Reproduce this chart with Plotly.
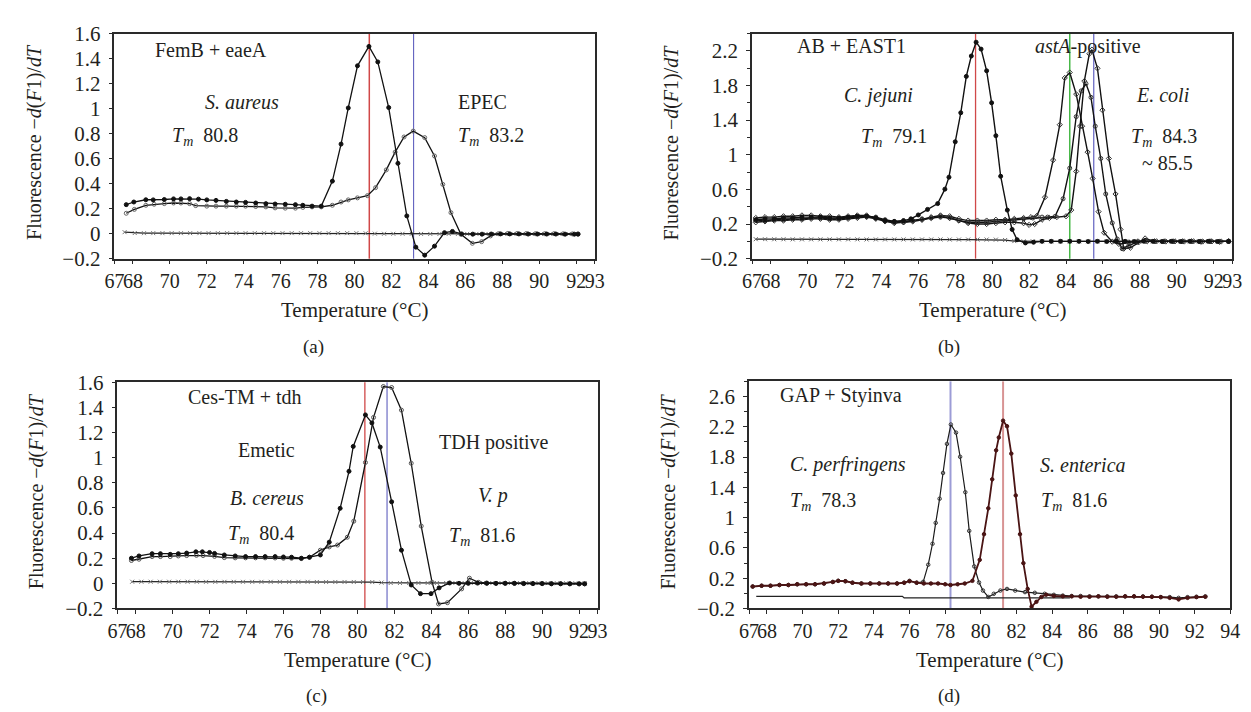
import plotly.graph_objects as go

W, H = 1251, 712
FONT = "Liberation Serif"
INK = "#231f20"

# ---------------- data: panel (a) FemB + eaeA ----------------
A_T_SAUREUS = [67.64, 68.05, 68.7, 69.1, 69.7, 70.2, 70.6, 71.07, 71.55, 72.0,
               72.5, 73.06, 73.6, 74.1, 74.65, 75.2, 75.7, 76.25, 76.8, 77.2,
               77.7, 78.2, 78.8, 79.27, 79.66, 80.16, 80.78, 81.26, 81.85, 82.35,
               82.83, 83.32, 83.8, 84.33, 84.87, 85.3, 85.8, 86.4, 86.9, 87.4,
               87.9, 88.4, 88.9, 89.4, 89.9, 90.4, 90.9, 91.4, 91.9, 92.1]
A_V_SAUREUS = [0.232, 0.253, 0.271, 0.27, 0.273, 0.278, 0.278, 0.28, 0.276, 0.27,
               0.266, 0.258, 0.253, 0.25, 0.245, 0.24, 0.237, 0.235, 0.232, 0.227,
               0.22, 0.22, 0.42, 0.716, 1.005, 1.342, 1.497, 1.373, 1.008, 0.562,
               0.142, -0.108, -0.172, -0.1, 0.008, 0.018, -0.002, -0.004, -0.004, -0.003,
               -0.002, -0.002, -0.002, -0.003, -0.003, -0.003, -0.003, -0.004, -0.004, -0.004]
A_T_EPEC = [67.64, 68.08, 68.7, 69.15, 69.7, 70.2, 70.6, 71.07, 71.4, 72.0,
            72.5, 73.06, 73.6, 74.1, 74.65, 75.2, 75.7, 76.25, 76.8, 77.2,
            77.7, 78.2, 78.8, 79.27, 79.66, 80.16, 80.7, 81.14, 81.72, 82.2,
            82.68, 83.18, 83.8, 84.33, 84.78, 85.22, 85.76, 86.38, 86.88, 87.36,
            87.8, 88.3, 88.8, 89.3, 89.8, 90.3, 90.8, 91.3, 91.8, 92.1]
A_V_EPEC = [0.163, 0.194, 0.227, 0.235, 0.24, 0.245, 0.245, 0.24, 0.224, 0.22,
            0.22, 0.22, 0.22, 0.22, 0.217, 0.214, 0.206, 0.204, 0.204, 0.21,
            0.214, 0.214, 0.227, 0.253, 0.27, 0.286, 0.304, 0.368, 0.51, 0.652,
            0.773, 0.82, 0.768, 0.621, 0.394, 0.168, -0.005, -0.077, -0.064, -0.018,
            0.0, 0.002, 0.001, 0.001, 0.0, 0.0, 0.0, -0.001, -0.002, -0.002]
A_T_NTC = [67.55, 68.1, 68.6, 69.1, 69.6, 70.1, 70.6, 71.1, 71.6, 72.1,
           72.6, 73.1, 73.6, 74.1, 74.6, 75.1, 75.6, 76.1, 76.6, 77.1,
           77.6, 78.1, 78.6, 79.1, 79.6, 80.1, 80.6, 81.1, 81.6, 82.1,
           82.6, 83.1, 83.6, 84.1, 84.6, 85.1, 85.6, 86.1, 86.6, 87.1,
           87.6, 88.1, 88.6, 89.1, 89.6, 90.1, 90.6, 91.1, 91.6, 92.1]
A_V_NTC = [0.012, 0.005, 0.004, 0.004, 0.004, 0.004, 0.004, 0.004, 0.004, 0.004,
           0.004, 0.004, 0.004, 0.004, 0.004, 0.004, 0.004, 0.004, 0.004, 0.004,
           0.004, 0.004, 0.004, 0.004, 0.004, 0.004, 0.003, 0.0, -0.001, -0.001,
           -0.001, -0.001, -0.002, -0.002, -0.002, -0.002, -0.002, -0.002, -0.002, -0.002,
           -0.002, -0.002, -0.002, -0.003, -0.003, -0.003, -0.003, -0.003, -0.003, -0.003]

# ---------------- data: panel (b) AB + EAST1 ----------------
B_T_CJ = [67.2, 67.7, 68.2, 68.7, 69.2, 69.7, 70.2, 70.7, 71.2, 71.7,
          72.2, 72.7, 73.2, 73.7, 74.2, 74.7, 75.2, 75.6, 76.0, 76.5,
          77.05, 77.44, 77.66, 78.0, 78.3, 78.6, 78.87, 79.13, 79.4, 79.7,
          79.97, 80.2, 80.46, 80.82, 81.08, 81.35, 81.8, 82.24, 82.7, 83.2,
          83.7, 84.2, 84.7, 85.2, 85.7, 86.2, 86.7, 87.2, 87.7, 88.2,
          88.7, 89.2, 89.7, 90.2, 90.7, 91.2, 91.7, 92.2, 92.8]
B_V_CJ = [0.25, 0.26, 0.26, 0.27, 0.27, 0.28, 0.28, 0.28, 0.27, 0.27,
          0.28, 0.29, 0.29, 0.27, 0.24, 0.23, 0.24, 0.26, 0.305, 0.369,
          0.436, 0.603, 0.741, 1.15, 1.485, 1.905, 2.14, 2.3, 2.22, 1.97,
          1.6, 1.22, 0.752, 0.361, 0.138, 0.019, -0.018, -0.01, 0.0, 0.0,
          0.0, 0.0, 0.0, -0.002, 0.0, -0.002, 0.0, 0.0, -0.002, 0.002,
          0.0, -0.002, 0.0, -0.002, 0.0, -0.002, 0.0, -0.002, 0.0]
B_T_EC1 = [67.2, 67.7, 68.2, 68.7, 69.2, 69.7, 70.2, 70.7, 71.2, 71.7,
           72.2, 72.7, 73.2, 73.7, 74.2, 74.7, 75.2, 75.7, 76.2, 76.7,
           77.2, 77.7, 78.2, 78.7, 79.2, 79.7, 80.2, 80.7, 81.2, 81.7,
           82.1, 82.42, 82.86, 83.3, 83.66, 83.93, 84.2, 84.55, 84.87, 85.17,
           85.44, 85.76, 86.06, 86.5, 86.86, 87.4, 87.9, 88.4, 88.9, 89.4,
           89.9, 90.4, 90.9, 91.4, 91.9, 92.4, 92.8]
B_V_EC1 = [0.27, 0.28, 0.28, 0.29, 0.29, 0.3, 0.3, 0.29, 0.29, 0.28,
           0.29, 0.3, 0.3, 0.27, 0.24, 0.22, 0.22, 0.23, 0.25, 0.28,
           0.3, 0.29, 0.26, 0.24, 0.24, 0.24, 0.25, 0.25, 0.26, 0.27,
           0.28, 0.294, 0.51, 0.938, 1.347, 1.887, 1.95, 1.7, 1.33, 1.03,
           0.726, 0.343, 0.1, -0.004, -0.03, -0.011, 0.0, 0.002, 0.0, -0.002,
           0.0, -0.002, 0.0, -0.002, 0.0, -0.002, 0.0]
B_T_EC2 = [67.2, 67.7, 68.2, 68.7, 69.2, 69.7, 70.2, 70.7, 71.2, 71.7,
           72.2, 72.7, 73.2, 73.7, 74.2, 74.7, 75.2, 75.7, 76.2, 76.7,
           77.2, 77.7, 78.2, 78.7, 79.2, 79.7, 80.2, 80.7, 81.2, 81.7,
           82.2, 82.7, 83.0, 83.4, 83.84, 84.2, 84.55, 84.82, 85.08, 85.35,
           85.58, 85.88, 86.15, 86.5, 86.77, 87.04, 87.4, 87.84, 88.3, 88.8,
           89.3, 89.8, 90.3, 90.8, 91.3, 91.8, 92.3, 92.8]
B_V_EC2 = [0.24, 0.24, 0.25, 0.25, 0.26, 0.26, 0.27, 0.27, 0.26, 0.26,
           0.27, 0.28, 0.29, 0.28, 0.25, 0.23, 0.23, 0.24, 0.26, 0.27,
           0.28, 0.27, 0.24, 0.22, 0.22, 0.22, 0.23, 0.24, 0.25, 0.26,
           0.27, 0.28, 0.28, 0.287, 0.492, 0.845, 1.44, 1.738, 1.82, 1.663,
           1.33, 0.957, 0.547, 0.213, 0.027, -0.085, -0.048, -0.01, 0.0, 0.0,
           -0.002, 0.0, -0.002, 0.0, -0.002, 0.0, -0.002, 0.0]
B_T_EC3 = [67.2, 67.7, 68.2, 68.7, 69.2, 69.7, 70.2, 70.7, 71.2, 71.7,
           72.2, 72.7, 73.2, 73.7, 74.2, 74.7, 75.2, 75.7, 76.2, 76.7,
           77.2, 77.7, 78.2, 78.7, 79.2, 79.7, 80.2, 80.7, 81.2, 81.7,
           82.0, 82.3, 82.7, 83.1, 83.5, 84.0, 84.28, 84.55, 84.76, 84.99,
           85.26, 85.4, 85.7, 85.97, 86.32, 86.68, 86.95, 87.12, 87.48, 87.93,
           88.28, 88.8, 89.3, 89.8, 90.3, 90.8, 91.3, 91.8, 92.3, 92.8]
B_V_EC3 = [0.22, 0.23, 0.24, 0.24, 0.25, 0.25, 0.26, 0.26, 0.25, 0.25,
           0.26, 0.27, 0.28, 0.26, 0.23, 0.21, 0.22, 0.24, 0.25, 0.27,
           0.29, 0.27, 0.24, 0.21, 0.2, 0.2, 0.21, 0.22, 0.22, 0.21,
           0.19, 0.2, 0.25, 0.27, 0.28, 0.29, 0.361, 0.808, 1.33, 1.85,
           2.166, 2.214, 1.998, 1.515, 0.957, 0.547, 0.138, -0.085, -0.074, -0.011,
           0.034, 0.0, 0.0, 0.0, 0.0, 0.0, -0.005, 0.0, -0.005, 0.0]
B_T_NTC = [67.2, 67.7, 68.2, 68.7, 69.2, 69.7, 70.2, 70.7, 71.2, 71.7,
           72.2, 72.7, 73.2, 73.7, 74.2, 74.7, 75.2, 75.7, 76.2, 76.7,
           77.2, 77.7, 78.2, 78.7, 79.2, 79.7, 80.2, 80.7, 81.2, 81.7,
           82.2, 82.7, 83.2, 83.7, 84.2, 84.7, 85.2, 85.7, 86.2, 86.7,
           87.2, 87.7, 88.2, 88.7, 89.2, 89.7, 90.2, 90.7, 91.2, 91.7,
           92.2, 92.8]
B_V_NTC = [0.025, 0.024, 0.024, 0.024, 0.023, 0.023, 0.023, 0.023, 0.023, 0.023,
           0.023, 0.023, 0.022, 0.022, 0.022, 0.022, 0.022, 0.022, 0.022, 0.022,
           0.022, 0.021, 0.021, 0.021, 0.021, 0.021, 0.02, 0.015, 0.003, 0.0,
           0.0, 0.0, 0.0, 0.0, 0.0, 0.0, 0.0, 0.0, 0.0, 0.0,
           0.0, 0.0, 0.0, 0.0, 0.0, 0.0, 0.0, 0.0, 0.0, 0.0,
           0.0, 0.0]

# ---------------- data: panel (c) Ces-TM + tdh ----------------
C_T_EMETIC = [67.76, 68.17, 68.88, 69.33, 69.86, 70.3, 70.75, 71.25, 71.6, 71.99,
              72.26, 72.79, 73.38, 73.94, 74.48, 75.0, 75.54, 75.99, 76.43, 76.96,
              77.4, 77.99, 78.47, 79.06, 79.54, 79.77, 80.43, 80.78, 81.23, 81.85,
              82.38, 82.91, 83.41, 83.98, 84.42, 84.99, 85.5, 86.0, 86.5, 87.0,
              87.5, 88.0, 88.5, 89.0, 89.5, 90.0, 90.5, 91.0, 91.5, 92.0, 92.3]
C_V_EMETIC = [0.2, 0.218, 0.236, 0.236, 0.231, 0.236, 0.241, 0.251, 0.251, 0.246,
              0.238, 0.226, 0.218, 0.213, 0.213, 0.213, 0.213, 0.21, 0.208, 0.2,
              0.208, 0.226, 0.328, 0.597, 0.892, 1.09, 1.341, 1.277, 1.085, 0.649,
              0.264, -0.013, -0.082, -0.082, -0.036, 0.003, 0.0, 0.0, 0.002, 0.0,
              0.0, 0.0, 0.0, -0.002, -0.002, -0.002, -0.003, -0.003, -0.004, -0.004, -0.004]
C_T_VP = [67.76, 68.17, 68.88, 69.33, 69.86, 70.3, 70.75, 71.28, 71.64, 72.26,
          72.79, 73.38, 73.94, 74.48, 75.0, 75.54, 75.99, 76.43, 76.96, 77.4,
          77.99, 78.47, 78.92, 79.45, 79.8, 80.43, 80.87, 81.4, 81.85, 82.38,
          82.91, 83.45, 84.04, 84.39, 84.87, 85.64, 86.06, 86.56, 87.0, 87.5,
          88.0, 88.5, 89.0, 89.5, 90.0, 90.5, 91.0, 91.5, 92.0, 92.3]
C_V_VP = [0.182, 0.192, 0.213, 0.213, 0.213, 0.218, 0.221, 0.223, 0.221, 0.215,
          0.205, 0.203, 0.203, 0.203, 0.203, 0.202, 0.2, 0.2, 0.197, 0.208,
          0.264, 0.29, 0.305, 0.367, 0.495, 0.962, 1.321, 1.567, 1.559, 1.379,
          0.956, 0.456, 0.008, -0.164, -0.154, -0.044, 0.041, 0.008, 0.003, 0.0,
          0.001, 0.0, 0.0, -0.002, -0.002, -0.003, -0.003, -0.003, -0.004, -0.004]
C_T_NTC = [67.8, 68.3, 68.8, 69.3, 69.8, 70.3, 70.8, 71.3, 71.8, 72.3,
           72.8, 73.3, 73.8, 74.3, 74.8, 75.3, 75.8, 76.3, 76.8, 77.3,
           77.8, 78.3, 78.8, 79.3, 79.8, 80.3, 80.8, 81.3, 81.8, 82.3,
           82.8, 83.3, 83.8, 84.3, 84.8, 85.3, 85.8, 86.3, 86.8, 87.3,
           87.8, 88.3, 88.8, 89.3, 89.8, 90.3, 90.8, 91.3, 91.8, 92.3]
C_V_NTC = [0.013, 0.013, 0.013, 0.013, 0.013, 0.013, 0.013, 0.013, 0.012, 0.012,
           0.012, 0.012, 0.012, 0.012, 0.012, 0.012, 0.012, 0.012, 0.012, 0.012,
           0.011, 0.011, 0.011, 0.011, 0.011, 0.011, 0.01, 0.006, 0.003, 0.003,
           0.003, 0.003, 0.003, 0.003, 0.003, 0.003, 0.003, 0.003, 0.003, 0.002,
           0.002, 0.002, 0.002, 0.002, 0.002, 0.002, 0.001, 0.001, 0.001, 0.001]

# ---------------- data: panel (d) GAP + Styinva ----------------
D_T_CP = [67.2, 67.7, 68.2, 68.7, 69.2, 69.7, 70.2, 70.7, 71.2, 71.7,
          72.0, 72.4, 72.8, 73.3, 73.8, 74.3, 74.8, 75.3, 75.7, 76.0,
          76.4, 76.77, 77.05, 77.29, 77.47, 77.69, 77.88, 78.1, 78.32, 78.61,
          78.84, 79.13, 79.35, 79.63, 79.9, 80.12, 80.42, 80.73, 81.1, 81.47,
          81.93, 82.48, 83.03, 83.58, 84.1, 84.6, 85.1, 85.6, 86.1, 86.6,
          87.1, 87.6, 88.1, 88.6, 89.1, 89.6, 90.1, 90.6, 91.1, 91.6,
          92.1, 92.6]
D_V_CP = [0.09, 0.1, 0.1, 0.11, 0.11, 0.12, 0.12, 0.12, 0.13, 0.15,
          0.165, 0.16, 0.14, 0.13, 0.13, 0.13, 0.13, 0.13, 0.14, 0.165,
          0.14, 0.152, 0.378, 0.655, 0.931, 1.25, 1.59, 1.974, 2.23, 2.123,
          1.804, 1.336, 0.825, 0.356, 0.143, 0.037, -0.048, -0.006, 0.037, 0.058,
          0.037, 0.016, 0.007, -0.006, -0.02, -0.03, -0.035, -0.035, -0.04, -0.04,
          -0.04, -0.04, -0.04, -0.04, -0.04, -0.045, -0.05, -0.05, -0.06, -0.05,
          -0.045, -0.04]
D_T_SE = [67.2, 67.7, 68.2, 68.7, 69.2, 69.7, 70.2, 70.7, 71.2, 71.7,
          72.0, 72.4, 72.8, 73.3, 73.8, 74.3, 74.8, 75.3, 75.7, 76.0,
          76.4, 76.8, 77.2, 77.6, 78.0, 78.3, 78.7, 79.1, 79.53, 79.94,
          80.18, 80.42, 80.64, 80.86, 81.01, 81.25, 81.47, 81.71, 81.96, 82.2,
          82.39, 82.63, 82.85, 83.12, 83.4, 83.67, 84.1, 84.6, 85.1, 85.6,
          86.1, 86.6, 87.1, 87.6, 88.1, 88.6, 89.1, 89.6, 90.1, 90.6,
          91.1, 91.6, 92.1, 92.6]
D_V_SE = [0.09, 0.1, 0.1, 0.11, 0.11, 0.12, 0.12, 0.12, 0.13, 0.15,
          0.165, 0.16, 0.14, 0.13, 0.13, 0.13, 0.13, 0.13, 0.14, 0.16,
          0.14, 0.13, 0.13, 0.13, 0.12, 0.11, 0.12, 0.13, 0.165, 0.442,
          0.782, 1.123, 1.506, 1.889, 2.059, 2.281, 2.208, 1.846, 1.293, 0.782,
          0.399, 0.058, -0.176, -0.112, -0.048, -0.018, -0.035, -0.04, -0.04, -0.045,
          -0.045, -0.04, -0.045, -0.045, -0.04, -0.04, -0.045, -0.045, -0.05, -0.06,
          -0.08, -0.06, -0.05, -0.045]
D_T_NTC = [67.4, 75.6, 75.7, 85.0]
D_V_NTC = [-0.04, -0.04, -0.06, -0.06]

# ---------------- ticks and labels ----------------
X_TICKS_26 = [67, 68, 70, 72, 74, 76, 78, 80, 82, 84, 86, 88, 90, 92, 93]
X_TICKS_27 = [67, 68, 70, 72, 74, 76, 78, 80, 82, 84, 86, 88, 90, 92, 94]
Y_TICKS_16 = [-0.2, 0, 0.2, 0.4, 0.6, 0.8, 1, 1.2, 1.4, 1.6]
Y_LABELS_16 = ["\u22120.2", "0", "0.2", "0.4", "0.6", "0.8", "1", "1.2", "1.4", "1.6"]
Y_TICKS_24 = [-0.2, 0.2, 0.6, 1, 1.4, 1.8, 2.2]
Y_LABELS_24 = ["\u22120.2", "0.2", "0.6", "1", "1.4", "1.8", "2.2"]
Y_MINOR_24 = [0, 0.4, 0.8, 1.2, 1.6, 2.0, 2.4]
Y_TICKS_28 = [-0.2, 0.2, 0.6, 1, 1.4, 1.8, 2.2, 2.6]
Y_LABELS_28 = ["\u22120.2", "0.2", "0.6", "1", "1.4", "1.8", "2.2", "2.6"]
Y_MINOR_28 = [0, 0.4, 0.8, 1.2, 1.6, 2.0, 2.4, 2.8]

TM_LINES = {
    "a": [(80.8, "#d04848", 1.5), (83.2, "#5050b8", 1.0)],
    "b": [(79.1, "#d04848", 1.3), (84.2, "#48b848", 1.5), (85.5, "#6060c0", 1.2)],
    "c": [(80.4, "#d04848", 1.3), (81.6, "#5050b8", 1.0)],
    "d": [(78.3, "#9c9cd6", 2.0), (81.25, "#d89494", 2.0)],
}

TM = "<i>T<sub>m</sub></i>\u00a0\u00a0"
NOTES = {
    "a": [("FemB + eaeA", 69.1, 1.47), ("<i>S. aureus</i>", 71.8, 1.05), (TM + "80.8", 70.0, 0.78),
          ("EPEC", 85.5, 1.05), (TM + "83.2", 85.5, 0.78)],
    "b": [("AB + EAST1", 69.3, 2.255), ("<i>astA</i>-positive", 82.2, 2.255),
          ("<i>C. jejuni</i>", 71.85, 1.686), (TM + "79.1", 72.8, 1.195),
          ("<i>E. coli</i>", 87.67, 1.686), (TM + "84.3", 87.4, 1.195), ("~ 85.5", 88.0, 0.9)],
    "c": [("Ces-TM + tdh", 70.7, 1.485), ("Emetic", 73.4, 1.06), ("<i>B. cereus</i>", 72.97, 0.677),
          (TM + "80.4", 72.86, 0.392), ("TDH positive", 84.3, 1.123), ("<i>V. p</i>", 86.39, 0.70),
          (TM + "81.6", 84.85, 0.369)],
    "d": [("GAP + Styinva", 68.6, 2.61), ("<i>C. perfringens</i>", 69.2, 1.70), (TM + "78.3", 69.2, 1.21),
          ("<i>S. enterica</i>", 83.23, 1.70), (TM + "81.6", 83.29, 1.21)],
}

# panel geometry in pixels: (left, right, top, bottom)
PANELS = {
    "a": dict(ax="", box=(98, 586, 14, 247), xr=[67, 93], yr=[-0.2, 1.6], xt=X_TICKS_26,
              yt=Y_TICKS_16, yl=Y_LABELS_16, ym=None, label="(a)", lab_xy=(300, 338), ytx=16),
    "b": dict(ax="2", box=(746, 1234, 14, 247), xr=[67, 93], yr=[-0.2, 2.4], xt=X_TICKS_26,
              yt=Y_TICKS_24, yl=Y_LABELS_24, ym=Y_MINOR_24, label="(b)", lab_xy=(946, 338), ytx=664),
    "c": dict(ax="3", box=(101, 589, 375, 609), xr=[67, 93], yr=[-0.2, 1.6], xt=X_TICKS_26,
              yt=Y_TICKS_16, yl=Y_LABELS_16, ym=None, label="(c)", lab_xy=(303, 700), ytx=19),
    "d": dict(ax="4", box=(743, 1232, 374, 609), xr=[67, 94], yr=[-0.2, 2.8], xt=X_TICKS_27,
              yt=Y_TICKS_28, yl=Y_LABELS_28, ym=Y_MINOR_28, label="(d)", lab_xy=(946, 700), ytx=661),
}

fig = go.Figure()


def add_series(panel, xs, ys, symbol, color, mcolor, size=4, width=1.2, mode="lines+markers"):
    ax = PANELS[panel]["ax"]
    fig.add_trace(go.Scatter(
        x=xs, y=ys, mode=mode, xaxis="x" + ax, yaxis="y" + ax,
        line=dict(color=color, width=width),
        marker=dict(symbol=symbol, size=size, color=mcolor, line=dict(color=mcolor, width=1)),
        showlegend=False, hoverinfo="skip"))


# panel a
add_series("a", A_T_NTC, A_V_NTC, "x-thin-open", "#222", "#777", 4, 1.2)
add_series("a", A_T_EPEC, A_V_EPEC, "circle-open", "#111", "#666", 4, 1.3)
add_series("a", A_T_SAUREUS, A_V_SAUREUS, "circle", "#111", "#111", 4, 1.3)
# panel b
add_series("b", B_T_NTC, B_V_NTC, "x-thin-open", "#222", "#666", 4, 1.2)
add_series("b", B_T_EC1, B_V_EC1, "diamond-open", "#111", "#333", 4, 1.4)
add_series("b", B_T_EC2, B_V_EC2, "circle-open", "#111", "#333", 4, 1.4)
add_series("b", B_T_EC3, B_V_EC3, "diamond-open", "#111", "#333", 4, 1.4)
add_series("b", B_T_CJ, B_V_CJ, "circle", "#111", "#111", 4, 1.4)
# panel c
add_series("c", C_T_NTC, C_V_NTC, "x-thin-open", "#222", "#777", 4, 1.2)
add_series("c", C_T_VP, C_V_VP, "circle-open", "#111", "#555", 4, 1.3)
add_series("c", C_T_EMETIC, C_V_EMETIC, "circle", "#111", "#111", 4, 1.3)
# panel d
add_series("d", D_T_NTC, D_V_NTC, "circle", "#222", "#222", 2, 1.3, mode="lines")
add_series("d", D_T_CP, D_V_CP, "circle-open", "#1a1a1a", "#333", 3.5, 1.2)
add_series("d", D_T_SE, D_V_SE, "circle", "#4a1414", "#4a1414", 3.5, 1.8)

annotations = []
shapes = []
layout = {}

for key, p in PANELS.items():
    ax = p["ax"]
    L, R, T, B = p["box"]
    xdom = [L / W, R / W]
    ydom = [1 - B / H, 1 - T / H]
    common = dict(showline=True, linecolor="#2a2a2a", linewidth=1.6, mirror=True,
                  ticks="outside", ticklen=4, tickwidth=1.3, tickcolor="#2a2a2a",
                  showgrid=False, zeroline=False)
    layout["xaxis" + ax] = dict(domain=xdom, range=p["xr"], anchor="y" + ax,
                                tickmode="array", tickvals=p["xt"], tickangle=0,
                                ticktext=[str(v) for v in p["xt"]],
                                tickfont=dict(family=FONT, size=20, color=INK), **common)
    yax = dict(domain=ydom, range=p["yr"], anchor="x" + ax, tickmode="array",
               tickvals=p["yt"], ticktext=p["yl"], ticklabelstandoff=4,
               tickfont=dict(family=FONT, size=21, color=INK), **common)
    if p["ym"] is not None:
        yax["minor"] = dict(tickmode="array", tickvals=p["ym"], ticks="outside",
                            ticklen=3, tickwidth=1, tickcolor="#2a2a2a")
    layout["yaxis" + ax] = yax

    # Tm reference lines
    for xv, col, lw in TM_LINES[key]:
        shapes.append(dict(type="line", xref="x" + ax, yref="y" + ax + " domain",
                           x0=xv, x1=xv, y0=0, y1=1, line=dict(color=col, width=lw),
                           layer="below"))

    # in-plot notes
    for txt, xv, yv in NOTES[key]:
        annotations.append(dict(text=txt, x=xv, y=yv, xref="x" + ax, yref="y" + ax,
                                xanchor="left", yanchor="middle", showarrow=False,
                                font=dict(family=FONT, size=20, color=INK)))

    # axis titles
    cx = (L + R) / 2
    annotations.append(dict(text="Temperature (\u00b0C)", x=cx / W, y=1 - (B + 53) / H,
                            xref="paper", yref="paper", xanchor="center", yanchor="middle",
                            showarrow=False, font=dict(family=FONT, size=21, color=INK)))
    annotations.append(dict(text="Fluorescence \u2212<i>d</i>(<i>F</i>1)/<i>dT</i>",
                            x=p["ytx"] / W, y=1 - ((T + B) / 2 - 4) / H,
                            xref="paper", yref="paper", xanchor="center", yanchor="middle",
                            textangle=-90, showarrow=False,
                            font=dict(family=FONT, size=20, color=INK)))
    lx, ly = p["lab_xy"]
    annotations.append(dict(text=p["label"], x=lx / W, y=1 - ly / H, xref="paper", yref="paper",
                            xanchor="center", yanchor="middle", showarrow=False,
                            font=dict(family=FONT, size=19, color=INK)))

fig.update_layout(
    width=W, height=H, margin=dict(l=0, r=0, t=0, b=0),
    paper_bgcolor="white", plot_bgcolor="white",
    annotations=annotations, shapes=shapes, **layout)

fig.write_html("out.html")
